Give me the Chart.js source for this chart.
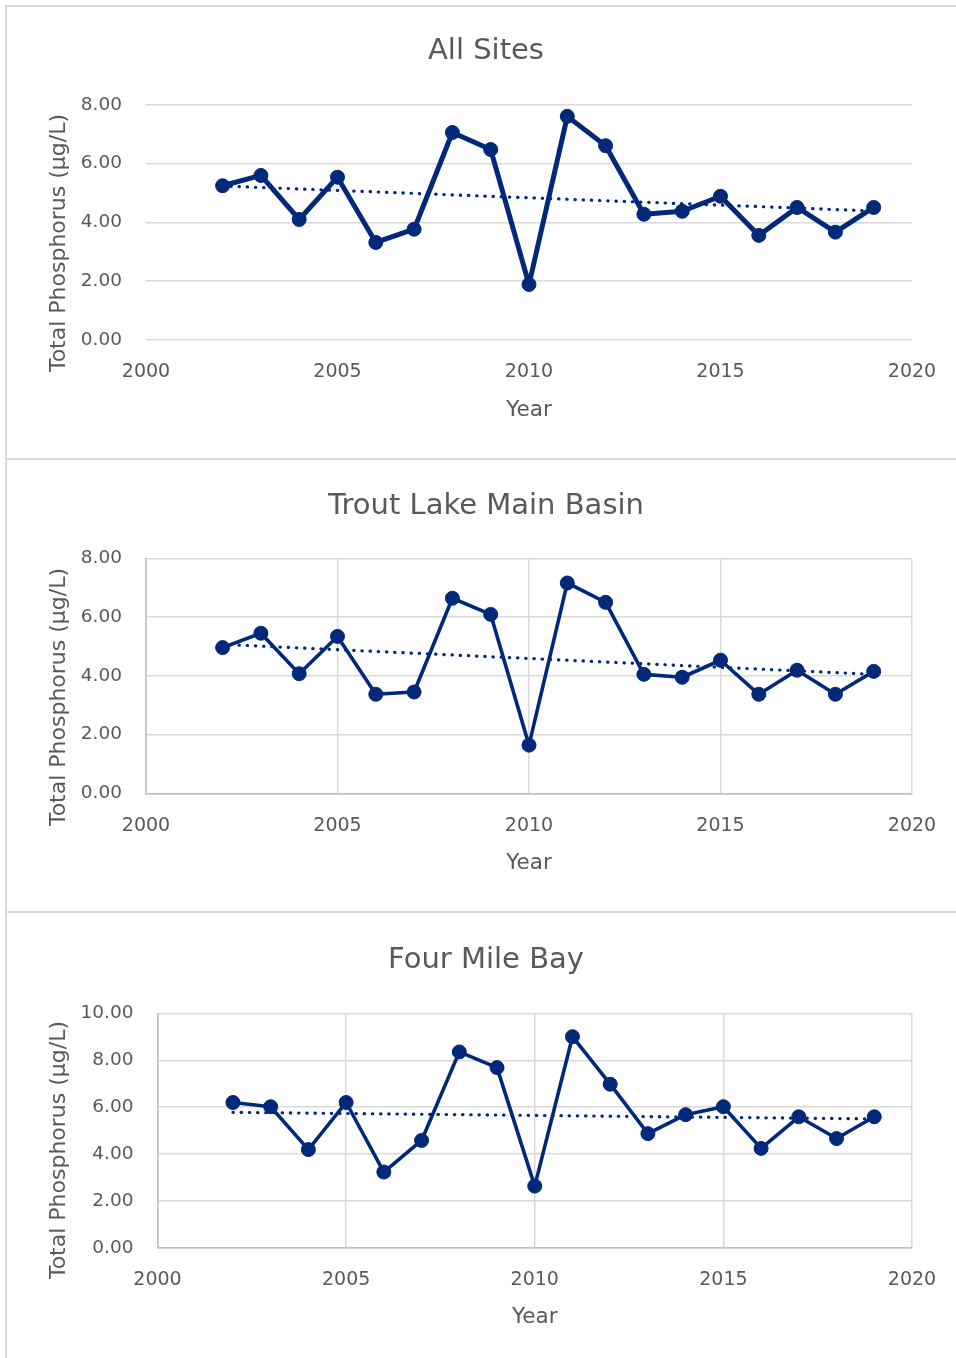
<!DOCTYPE html>
<html>
<head>
<meta charset="utf-8">
<script src="https://cdn.jsdelivr.net/npm/chart.js@4.4.1/dist/chart.umd.min.js"></script>
<style>
  html, body { margin: 0; padding: 0; background: #ffffff; }
  body { width: 956px; height: 1358px; position: relative; overflow: hidden; }
  .panel { position: absolute; left: 5px; width: 980px; border-top: 2px solid #d9d9d9; border-left: 2px solid #d9d9d9; box-sizing: border-box; }
  canvas { position: absolute; left: 8px; }
</style>
</head>
<body>
<div class="panel" style="top:5px;height:453px;"></div>
<div class="panel" style="top:458px;height:453px;"></div>
<div class="panel" style="top:911px;height:460px;"></div>
<canvas id="c1" width="956" height="451" style="top:7px"></canvas>
<canvas id="c2" width="956" height="451" style="top:460px"></canvas>
<canvas id="c3" width="956" height="445" style="top:913px"></canvas>
<script>
// ---- data ----
const years = [2002, 2003, 2004, 2005, 2006, 2007, 2008, 2009, 2010, 2011, 2012, 2013, 2014, 2015, 2016, 2017, 2018, 2019];
const allSites  = [5.25, 5.60, 4.10, 5.54, 3.32, 3.77, 7.06, 6.48, 1.89, 7.61, 6.61, 4.28, 4.38, 4.89, 3.56, 4.51, 3.67, 4.51];
const troutLake = [4.96, 5.45, 4.07, 5.34, 3.37, 3.45, 6.64, 6.09, 1.64, 7.16, 6.50, 4.05, 3.95, 4.53, 3.37, 4.19, 3.37, 4.15];
const fourMile  = [6.20, 6.02, 4.19, 6.20, 3.23, 4.58, 8.36, 7.69, 2.63, 9.01, 6.98, 4.87, 5.68, 6.02, 4.24, 5.59, 4.66, 5.59];
const trendYears = [2002, 2019];
const trendAllSites = [5.24, 4.39];
const trendTrout    = [5.07, 4.05];
const trendFourMile = [5.78, 5.50];
const xTickValues = [2000, 2005, 2010, 2015, 2020];
const yTicksEight = [0, 2, 4, 6, 8];
const yTicksTen   = [0, 2, 4, 6, 8, 10];
const chartTitles = ['All Sites', 'Trout Lake Main Basin', 'Four Mile Bay'];
const yAxisTitle = 'Total Phosphorus (µg/L)';
const xAxisTitle = 'Year';

// ---- styling ----
const NAVY = '#00297a';
const TEXT = '#595959';
const GRID = '#d9d9d9';
const AXIS = '#bfbfbf';
const FONT = "'DejaVu Sans', sans-serif";

const yTitlePlugin = {
  id: 'yTitle',
  afterDraw(chart, args, opts) {
    const ctx = chart.ctx;
    ctx.save();
    ctx.translate(opts.x, opts.y);
    ctx.rotate(-Math.PI / 2);
    ctx.font = opts.size + 'px ' + FONT;
    ctx.fillStyle = TEXT;
    ctx.textAlign = 'center';
    ctx.textBaseline = 'middle';
    ctx.fillText(opts.text, 0, 0);
    ctx.restore();
  }
};

function pts(xs, ys) { return xs.map((x, i) => ({ x: x, y: ys[i] })); }

function makeChart(id, cfg) {
  return new Chart(document.getElementById(id), {
    type: 'line',
    data: {
      datasets: [
        {
          data: pts(years, cfg.values),
          borderColor: NAVY,
          backgroundColor: NAVY,
          borderWidth: cfg.lineWidth,
          pointRadius: 7,
          pointBorderWidth: 1,
          pointBackgroundColor: NAVY,
          pointBorderColor: NAVY,
          tension: 0,
          borderJoinStyle: 'round'
        },
        {
          data: pts(trendYears, cfg.trend),
          borderColor: NAVY,
          borderWidth: 3.2,
          borderDash: [0.4, 7.8],
          borderCapStyle: 'round',
          pointRadius: 0,
          tension: 0
        }
      ]
    },
    options: {
      responsive: false,
      animation: false,
      events: [],
      layout: { padding: 0 },
      plugins: {
        legend: { display: false },
        tooltip: { enabled: false },
        title: {
          display: true,
          text: cfg.title,
          color: TEXT,
          font: { family: FONT, size: 29, weight: 'normal', lineHeight: 1.2 },
          padding: { top: cfg.titleTop, bottom: cfg.titleBottom }
        },
        yTitle: { text: yAxisTitle, x: cfg.yTitleX, y: cfg.yTitleY, size: 22 }
      },
      scales: {
        x: {
          type: 'linear',
          min: 2000, max: 2020,
          afterBuildTicks: s => { s.ticks = xTickValues.map(v => ({ value: v })); },
          afterFit: s => { s.height = cfg.xHeight; },
          grid: { display: cfg.vGrid, color: GRID, lineWidth: 1.5, drawTicks: false },
          border: { display: cfg.vGrid, color: AXIS, width: 1.5 },
          ticks: { color: TEXT, font: { family: FONT, size: 19 }, padding: 21, maxRotation: 0, callback: v => String(v) },
          title: { display: true, text: xAxisTitle, color: TEXT, font: { family: FONT, size: 21.5 }, padding: { top: 0, bottom: cfg.xTitleBottom } }
        },
        y: {
          min: 0, max: cfg.yMax,
          afterBuildTicks: s => { s.ticks = cfg.yTicks.map(v => ({ value: v })); },
          afterFit: s => { s.width = cfg.yWidth; },
          grid: { color: GRID, lineWidth: 1.5, drawTicks: false },
          border: { display: cfg.vGrid, color: AXIS, width: 1.5 },
          ticks: { color: TEXT, font: { family: FONT, size: 18.5 }, padding: 24, callback: v => Number(v).toFixed(2) }
        },
        spacer: {
          type: 'linear',
          position: 'right',
          display: true,
          afterFit: s => { s.width = cfg.padRight; },
          grid: { display: false, drawOnChartArea: false },
          border: { display: false },
          ticks: { display: false }
        }
      }
    },
    plugins: [yTitlePlugin]
  });
}

makeChart('c1', {
  values: allSites, trend: trendAllSites, title: chartTitles[0], lineWidth: 5,
  vGrid: false, yMax: 8, yTicks: yTicksEight,
  padRight: 52, yWidth: 138, xHeight: 118,
  titleTop: 26.6, titleBottom: 36.5, xTitleBottom: 35,
  yTitleX: 51, yTitleY: 236
});
makeChart('c2', {
  values: troutLake, trend: trendTrout, title: chartTitles[1], lineWidth: 3.6,
  vGrid: true, yMax: 8, yTicks: yTicksEight,
  padRight: 52, yWidth: 138, xHeight: 117.7,
  titleTop: 28.6, titleBottom: 34.9, xTitleBottom: 35,
  yTitleX: 51, yTitleY: 237
});
makeChart('c3', {
  values: fourMile, trend: trendFourMile, title: chartTitles[2], lineWidth: 3.6,
  vGrid: true, yMax: 10, yTicks: yTicksTen,
  padRight: 52, yWidth: 149.5, xHeight: 110.3,
  titleTop: 29.7, titleBottom: 36, xTitleBottom: 28,
  yTitleX: 51, yTitleY: 237
});
</script>
</body>
</html>
